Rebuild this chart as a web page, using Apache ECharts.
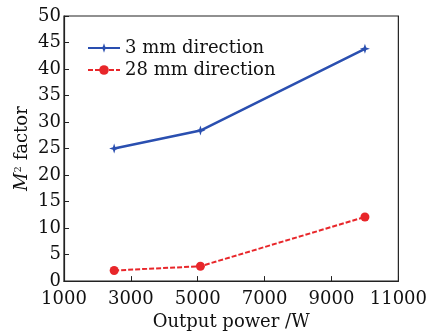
<!DOCTYPE html>
<html><head><meta charset="utf-8">
<script src="https://cdn.jsdelivr.net/npm/echarts@6/dist/echarts.min.js"></script>
<style>html,body{margin:0;padding:0;background:#fff}#c{width:430px;height:336px}</style>
</head><body><div id="c"></div>
<script>
const power = [2500, 5080, 10000];
const dir3mm = [25.0, 28.4, 43.8];
const dir28mm = [2.0, 2.8, 12.1];
const xTicks = [1000, 3000, 5000, 7000, 9000, 11000];
const seriesNames = ['3 mm direction', '28 mm direction'];

const font = 'DejaVu Serif';
const chart = echarts.init(document.getElementById('c'), null, {renderer: 'canvas'});
const star = 'path://M0,-10 L2.5,-2.5 L10,0 L2.5,2.5 L0,10 L-2.5,2.5 L-10,0 L-2.5,-2.5 Z';
chart.setOption({
  animation: false,
  backgroundColor: '#fff',
  grid: {left: 64, right: 29, top: 16, bottom: 53, show: true, borderColor: '#222', borderWidth: 1.2, backgroundColor: 'transparent'},
  legend: {
    left: 82, top: 34, orient: 'vertical', itemWidth: 32, itemHeight: 12, itemGap: 4,
    textStyle: {fontFamily: font, fontSize: 18, color: '#111'},
    data: seriesNames
  },
  xAxis: {
    type: 'value', min: xTicks[0], max: xTicks[xTicks.length - 1], interval: 2000,
    axisLine: {show: true, lineStyle: {color: '#222', width: 1.2}},
    axisTick: {show: true, inside: true, length: 5, lineStyle: {color: '#222'}},
    splitLine: {show: false},
    axisLabel: {fontFamily: font, fontSize: 18, color: '#111', margin: 9, formatter: v => String(v)},
    name: 'Output power /W', nameLocation: 'middle', nameGap: 31,
    nameTextStyle: {fontFamily: font, fontSize: 18, color: '#111'}
  },
  yAxis: {
    type: 'value', min: 0, max: 50, interval: 5,
    axisLine: {show: true, lineStyle: {color: '#222', width: 1.2}},
    axisTick: {show: true, inside: true, length: 5, lineStyle: {color: '#222'}},
    splitLine: {show: false},
    axisLabel: {fontFamily: font, fontSize: 18, color: '#111', margin: 3},
    name: '{i|M}{s|2} factor', nameLocation: 'middle', nameGap: 33, nameMoveOverlap: false,
    nameTextStyle: {
      fontFamily: font, fontSize: 18, color: '#111',
      rich: {
        i: {fontFamily: font, fontStyle: 'italic', fontSize: 18, color: '#111'},
        s: {fontFamily: font, fontSize: 10, color: '#111', verticalAlign: 'top', padding: [0, 0, 8, 0]}
      }
    }
  },
  series: [
    {
      name: seriesNames[0], type: 'line',
      data: power.map((p, i) => [p, dir3mm[i]]),
      symbol: star, symbolSize: 10,
      lineStyle: {color: '#2a4fb0', width: 2.5},
      itemStyle: {color: '#2a4fb0'}
    },
    {
      name: seriesNames[1], type: 'line',
      data: power.map((p, i) => [p, dir28mm[i]]),
      symbol: 'circle', symbolSize: 9,
      lineStyle: {color: '#e8262a', width: 2, type: [5, 2]},
      itemStyle: {color: '#e8262a'}
    }
  ]
});
</script></body></html>
